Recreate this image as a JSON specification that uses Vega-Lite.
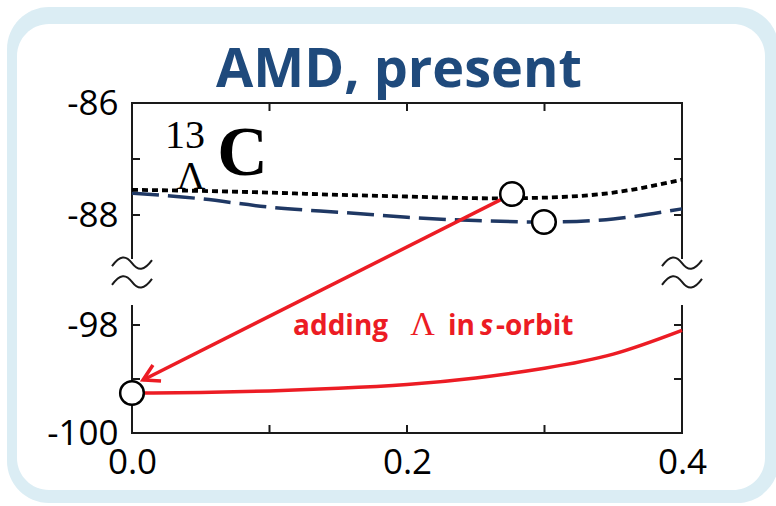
{
  "$schema": "https://vega.github.io/schema/vega-lite/v6.json",
  "width": 550,
  "height": 330,
  "autosize": {"type": "none"},
  "padding": {"left": 132, "top": 103, "right": 94, "bottom": 73},
  "background": "white",
  "config": {"view": {"stroke": null}, "font": "Open Sans"},
  "datasets": {
    "frame": [
      {"x": 0, "y": -86, "x2": 0.4, "y2": -86},
      {"x": 0, "y": -100, "x2": 0.4, "y2": -100},
      {"x": 0, "y": -86, "x2": 0, "y2": -88.77},
      {"x": 0, "y": -97.65, "x2": 0, "y2": -100},
      {"x": 0.4, "y": -86, "x2": 0.4, "y2": -88.77},
      {"x": 0.4, "y": -97.65, "x2": 0.4, "y2": -100}
    ],
    "ticks": [
      {"side": "left", "x": 0, "y": -87},
      {"side": "left", "x": 0, "y": -88},
      {"side": "left", "x": 0, "y": -98},
      {"side": "left", "x": 0, "y": -99},
      {"side": "right", "x": 0.4, "y": -87},
      {"side": "right", "x": 0.4, "y": -88},
      {"side": "right", "x": 0.4, "y": -98},
      {"side": "right", "x": 0.4, "y": -99},
      {"side": "top", "x": 0.1, "y": -86},
      {"side": "top", "x": 0.2, "y": -86},
      {"side": "top", "x": 0.3, "y": -86},
      {"side": "bottom", "x": 0.1, "y": -100},
      {"side": "bottom", "x": 0.2, "y": -100},
      {"side": "bottom", "x": 0.3, "y": -100}
    ],
    "breaks": [
      {"x": 0, "y": -88.86},
      {"x": 0, "y": -97.2},
      {"x": 0.4, "y": -88.86},
      {"x": 0.4, "y": -97.2}
    ],
    "curves": [
      {"s": "dot", "x": 0, "y": -87.55},
      {"s": "dot", "x": 0.05, "y": -87.57},
      {"s": "dot", "x": 0.1, "y": -87.6},
      {"s": "dot", "x": 0.15, "y": -87.64},
      {"s": "dot", "x": 0.2, "y": -87.67},
      {"s": "dot", "x": 0.25, "y": -87.7},
      {"s": "dot", "x": 0.3, "y": -87.69},
      {"s": "dot", "x": 0.35, "y": -87.6},
      {"s": "dot", "x": 0.4, "y": -87.37},
      {"s": "dash", "x": 0, "y": -87.61},
      {"s": "dash", "x": 0.05, "y": -87.71},
      {"s": "dash", "x": 0.1, "y": -87.86},
      {"s": "dash", "x": 0.15, "y": -87.95},
      {"s": "dash", "x": 0.2, "y": -88.04},
      {"s": "dash", "x": 0.25, "y": -88.1},
      {"s": "dash", "x": 0.3, "y": -88.125},
      {"s": "dash", "x": 0.35, "y": -88.07},
      {"s": "dash", "x": 0.4, "y": -87.89},
      {"s": "red", "x": 0, "y": -99.26},
      {"s": "red", "x": 0.05, "y": -99.25},
      {"s": "red", "x": 0.1, "y": -99.22},
      {"s": "red", "x": 0.15, "y": -99.17},
      {"s": "red", "x": 0.2, "y": -99.1},
      {"s": "red", "x": 0.25, "y": -98.98},
      {"s": "red", "x": 0.3, "y": -98.8},
      {"s": "red", "x": 0.35, "y": -98.54},
      {"s": "red", "x": 0.4, "y": -98.1}
    ],
    "circles": [
      {"x": 0.2764, "y": -87.625},
      {"x": 0.2996, "y": -88.125},
      {"x": 0, "y": -99.26}
    ]
  },
  "encoding": {
    "x": {
      "field": "x",
      "type": "quantitative",
      "scale": {"domain": [0, 0.4], "nice": false, "zero": false},
      "axis": {
        "values": [0, 0.2, 0.4],
        "format": ".1f",
        "title": null,
        "grid": false,
        "domain": false,
        "ticks": false,
        "tickSize": 0,
        "labelPadding": 12,
        "labelFont": "Open Sans",
        "labelFontSize": 35,
        "labelColor": "black",
        "labelFlush": false,
        "labelOverlap": false,
        "zindex": 1
      }
    },
    "y": {
      "field": "y",
      "type": "quantitative",
      "scale": {"domain": [-100, -97, -89, -86], "range": [330, 168, 168, 0], "nice": false, "zero": false},
      "axis": {
        "values": [-100, -98, -88, -86],
        "labelExpr": "toString(datum.value)",
        "title": null,
        "grid": false,
        "domain": false,
        "ticks": false,
        "tickSize": 0,
        "labelPadding": 14,
        "labelFont": "Open Sans",
        "labelFontSize": 35,
        "labelColor": "black",
        "labelOverlap": false,
        "zindex": 1
      }
    }
  },
  "layer": [
    {
      "data": {"values": [{"x": -0.09091, "x2": 0.47055, "y": -84.286, "y2": -101.296}]},
      "mark": {"type": "rect", "cornerRadius": 42, "color": "#dbedf4"},
      "encoding": {"x2": {"field": "x2"}, "y2": {"field": "y2"}}
    },
    {
      "data": {"values": [{"x": -0.08364, "x2": 0.46036, "y": -84.589, "y2": -101.056}]},
      "mark": {"type": "rect", "cornerRadius": 32, "color": "white"},
      "encoding": {"x2": {"field": "x2"}, "y2": {"field": "y2"}}
    },
    {
      "data": {"values": [{"x": 0.1942, "y": -85.714, "t": "AMD, present"}]},
      "mark": {"type": "text", "font": "Open Sans", "fontSize": 54, "fontWeight": "bold", "color": "#1f4a7c", "align": "center", "baseline": "alphabetic"},
      "encoding": {"text": {"field": "t"}}
    },
    {
      "data": {"name": "frame"},
      "mark": {"type": "rule", "color": "#1a1a1a", "strokeWidth": 2, "strokeCap": "square"},
      "encoding": {"x2": {"field": "x2"}, "y2": {"field": "y2"}}
    },
    {
      "data": {"name": "ticks"},
      "mark": {"type": "point", "filled": false, "stroke": "#1a1a1a", "strokeWidth": 2, "size": 256, "opacity": 1},
      "encoding": {
        "shape": {
          "field": "side",
          "type": "nominal",
          "scale": {"domain": ["left", "right", "top", "bottom"], "range": ["M0,0H1", "M0,0H-1", "M0,0V1", "M0,0V-1"]},
          "legend": null
        }
      }
    },
    {
      "data": {"name": "breaks"},
      "mark": {"type": "point", "filled": false, "stroke": "#1a1a1a", "strokeWidth": 2, "size": 1600, "opacity": 1,
        "shape": "M-1,0.15 C-0.6,-0.4 -0.3,-0.4 0,0 C0.3,0.4 0.6,0.4 1,-0.15"}
    },
    {
      "data": {"name": "curves"},
      "transform": [{"filter": "datum.s === 'red'"}],
      "mark": {"type": "line", "color": "#ec1c24", "strokeWidth": 3.5, "interpolate": "natural"}
    },
    {
      "data": {"name": "curves"},
      "transform": [{"filter": "datum.s === 'dash'"}],
      "mark": {"type": "line", "color": "#1f3864", "strokeWidth": 3.5, "strokeDash": [27, 9], "interpolate": "natural"}
    },
    {
      "data": {"name": "curves"},
      "transform": [{"filter": "datum.s === 'dot'"}],
      "mark": {"type": "line", "color": "black", "strokeWidth": 3.8, "strokeDash": [6, 4], "interpolate": "natural"}
    },
    {
      "data": {"values": [{"x": 0.2764, "y": -87.625, "x2": 0.008, "y2": -99.019}]},
      "mark": {"type": "rule", "color": "#ec1c24", "strokeWidth": 3.5},
      "encoding": {"x2": {"field": "x2"}, "y2": {"field": "y2"}}
    },
    {
      "data": {"values": [{"x": 0.008, "y": -99.019}]},
      "mark": {"type": "point", "filled": false, "stroke": "#ec1c24", "strokeWidth": 3.5, "size": 1296, "opacity": 1,
        "angle": 243.25, "shape": "M-0.5,0.87 L0,0 L0.5,0.87"}
    },
    {
      "data": {"name": "circles"},
      "mark": {"type": "point", "shape": "circle", "filled": true, "fill": "white", "stroke": "black", "strokeWidth": 2.5, "size": 560, "opacity": 1}
    },
    {
      "data": {"values": [{"x": 0.0385, "y": -86.8, "t": "13"}]},
      "mark": {"type": "text", "font": "Liberation Serif", "fontSize": 40, "color": "black", "align": "center", "baseline": "alphabetic"},
      "encoding": {"text": {"field": "t"}}
    },
    {
      "data": {"values": [{"x": 0.0429, "y": -87.54, "t": "Λ"}]},
      "mark": {"type": "text", "font": "Liberation Serif", "fontSize": 40, "color": "black", "align": "center", "baseline": "alphabetic"},
      "encoding": {"text": {"field": "t"}}
    },
    {
      "data": {"values": [{"x": 0.0804, "y": -87.29, "t": "C"}]},
      "mark": {"type": "text", "font": "Liberation Serif", "fontSize": 70, "fontWeight": "bold", "color": "black", "align": "center", "baseline": "alphabetic"},
      "encoding": {"text": {"field": "t"}}
    },
    {
      "data": {"values": [{"x": 0.1171, "y": -98.185, "t": "adding"}, {"x": 0.2298, "y": -98.185, "t": "in"}, {"x": 0.2647, "y": -98.185, "t": "-orbit"}]},
      "mark": {"type": "text", "font": "Open Sans", "fontSize": 28, "fontWeight": "bold", "color": "#ec1c24", "align": "left", "baseline": "alphabetic"},
      "encoding": {"text": {"field": "t"}}
    },
    {
      "data": {"values": [{"x": 0.2531, "y": -98.185, "t": "s"}]},
      "mark": {"type": "text", "font": "Open Sans", "fontSize": 28, "fontWeight": "bold", "fontStyle": "italic", "color": "#ec1c24", "align": "left", "baseline": "alphabetic"},
      "encoding": {"text": {"field": "t"}}
    },
    {
      "data": {"values": [{"x": 0.2113, "y": -98.185, "t": "Λ"}]},
      "mark": {"type": "text", "font": "Liberation Serif", "fontSize": 34, "color": "#ec1c24", "align": "center", "baseline": "alphabetic"},
      "encoding": {"text": {"field": "t"}}
    }
  ]
}
